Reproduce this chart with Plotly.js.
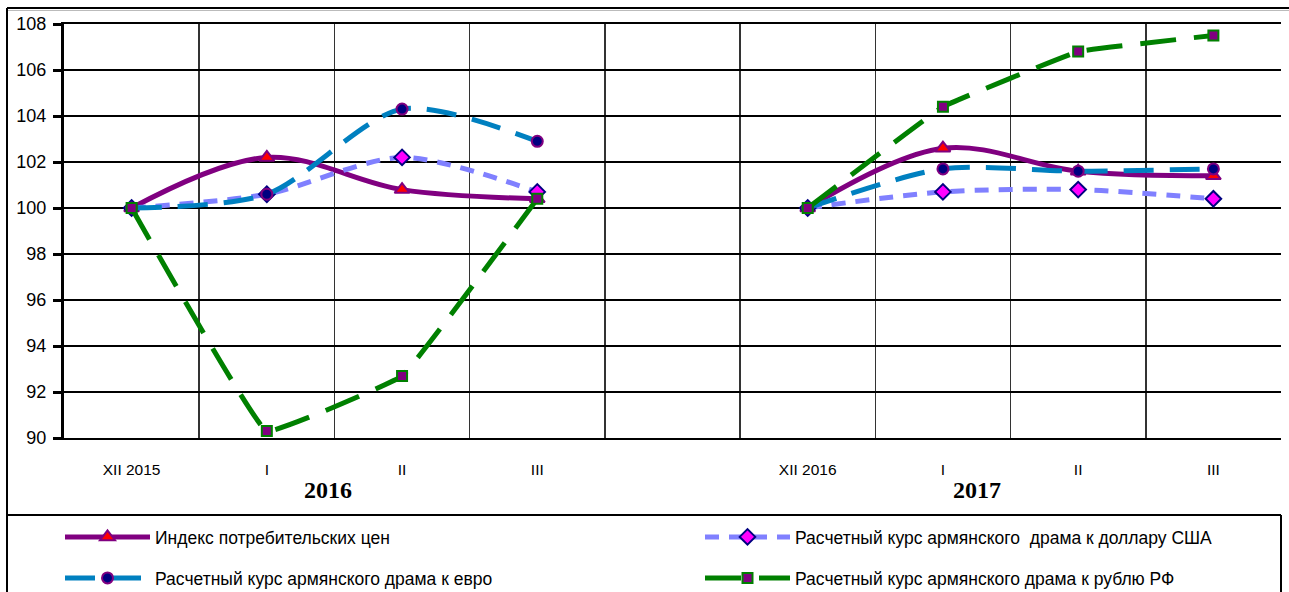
<!DOCTYPE html>
<html>
<head>
<meta charset="utf-8">
<script src="https://cdn.plot.ly/plotly-3.0.1.min.js"></script>
<style>html,body{margin:0;padding:0;background:#fff;}#chart{width:1289px;height:592px;}</style>
</head>
<body>
<div id="chart"></div>
<script>
// Category labels (slot 4 is an empty separator between the two years)
const categories = ["XII 2015", "I", "II", "III", "", "XII 2016", "I", "II", "III"];
const yearLabels = ["2016", "2017"];
const yTicks = [90, 92, 94, 96, 98, 100, 102, 104, 106, 108];

// Series values (null = gap between years)
const cpi = [100, 102.2, 100.8, 100.4, null, 100, 102.6, 101.6, 101.4];
const usd = [100, 100.6, 102.2, 100.7, null, 100, 100.7, 100.8, 100.4];
const eur = [100, 100.6, 104.3, 102.9, null, 100, 101.7, 101.6, 101.7];
const rub = [100, 90.3, 92.7, 100.4, null, 100, 104.4, 106.8, 107.5];

const names = [
  "Индекс потребительских цен",
  "Расчетный курс армянского  драма к доллару США",
  "Расчетный курс армянского драма к евро",
  "Расчетный курс армянского драма к рублю РФ"
];

const xIdx = categories.map((c, i) => i);
const boundaries = categories.map((c, i) => i - 0.5).concat([categories.length - 0.5]);

function tr(y, name, color, dash, sym, mfill, mline, msize, smooth, leg) {
  return {
    x: xIdx, y: y, name: name, type: 'scatter', mode: 'lines+markers', legend: leg,
    connectgaps: false, cliponaxis: false,
    line: {color: color, width: 5, dash: dash, shape: 'spline', smoothing: smooth},
    marker: {symbol: sym, color: mfill, size: msize, line: {color: mline, width: 2}}
  };
}

const data = [
  tr(cpi, names[0], '#800080', 'solid', 'triangle-up', '#FF0000', '#800080', 13, 1.0, 'legend'),
  tr(usd, names[1], '#8080FF', '14px,10px', 'diamond', '#FF00FF', '#000080', 12, 0.8, 'legend2'),
  tr(eur, names[2], '#0080C0', '30px,16px', 'circle', '#000080', '#800080', 11, 0.8, 'legend3'),
  tr(rub, names[3], '#008000', '36px,18px', 'square', '#800080', '#008000', 10, 0.2, 'legend4')
];

// pixel helpers for frame (paper coords)
const L = 64, R = 1281, T = 24, B = 438;
const px = v => (v - L) / (R - L);
const py = v => (B - v) / (B - T);

const frameLine = {color: '#000', width: 2};
const shapes = [
  {type: 'line', xref: 'paper', yref: 'paper', x0: px(7), x1: px(1289), y0: py(8), y1: py(8), line: frameLine},
  {type: 'line', xref: 'paper', yref: 'paper', x0: px(7), x1: px(1289), y0: py(10.5), y1: py(10.5), line: {color: '#bbb', width: 1}},
  {type: 'line', xref: 'paper', yref: 'paper', x0: px(7), x1: px(7), y0: py(8), y1: py(600), line: frameLine},
  {type: 'line', xref: 'paper', yref: 'paper', x0: px(7), x1: px(1281), y0: py(515), y1: py(515), line: frameLine},
  {type: 'line', xref: 'paper', yref: 'paper', x0: px(1281), x1: px(1281), y0: py(515), y1: py(600), line: frameLine}
];

const yearFont = {family: 'Liberation Serif', size: 24, color: '#000', weight: 'bold'};
const annotations = [
  {text: yearLabels[0], x: 1.45, xref: 'x', y: py(490), yref: 'paper', showarrow: false,
   font: yearFont, xanchor: 'center', yanchor: 'middle'},
  {text: yearLabels[1], x: 6.25, xref: 'x', y: py(490), yref: 'paper', showarrow: false,
   font: yearFont, xanchor: 'center', yanchor: 'middle'}
];

function leg(xp, yp) {
  return {
    orientation: 'v', x: px(xp), y: py(yp), xanchor: 'left', yanchor: 'middle',
    itemwidth: 85, font: {size: 17.5, color: '#000'}, bgcolor: 'rgba(0,0,0,0)'
  };
}

const layout = {
  width: 1289, height: 592,
  margin: {l: L, r: 1289 - R, t: T, b: 592 - B, autoexpand: false},
  paper_bgcolor: '#fff', plot_bgcolor: '#fff',
  font: {family: 'Liberation Sans, Arial, sans-serif', color: '#000'},
  showlegend: true,
  xaxis: {
    range: [-0.5, categories.length - 0.5], tickmode: 'array', tickvals: boundaries,
    ticktext: boundaries.map(() => ''), showgrid: true, gridcolor: '#333', gridwidth: 1.5,
    showline: true, linecolor: '#000', linewidth: 2, mirror: true, ticks: '', zeroline: false, fixedrange: true
  },
  xaxis2: {
    overlaying: 'x', matches: 'x', side: 'bottom', tickmode: 'array', tickvals: xIdx, ticktext: categories,
    showgrid: false, showline: false, ticks: '', zeroline: false, ticklabelstandoff: 20,
    tickfont: {size: 15.5, color: '#000'}
  },
  yaxis: {
    range: [90, 108], tickmode: 'array', tickvals: yTicks, ticktext: yTicks.map(String),
    showgrid: true, gridcolor: '#000', gridwidth: 2, showline: true, linecolor: '#000', linewidth: 3,
    ticks: 'outside', ticklen: 8, tickwidth: 3, tickcolor: '#000', zeroline: false,
    tickfont: {size: 18, color: '#000'}, ticklabelstandoff: 3
  },
  legend: leg(60, 537),
  legend2: leg(700, 537),
  legend3: leg(60, 578),
  legend4: leg(700, 578),
  shapes: shapes,
  annotations: annotations
};

// dummy trace to activate xaxis2 labels
data.push({x: xIdx, y: xIdx.map(() => null), xaxis: 'x2', showlegend: false, hoverinfo: 'skip', type: 'scatter', mode: 'lines'});

Plotly.newPlot('chart', data, layout, {displayModeBar: false, staticPlot: true});
</script>
</body>
</html>
